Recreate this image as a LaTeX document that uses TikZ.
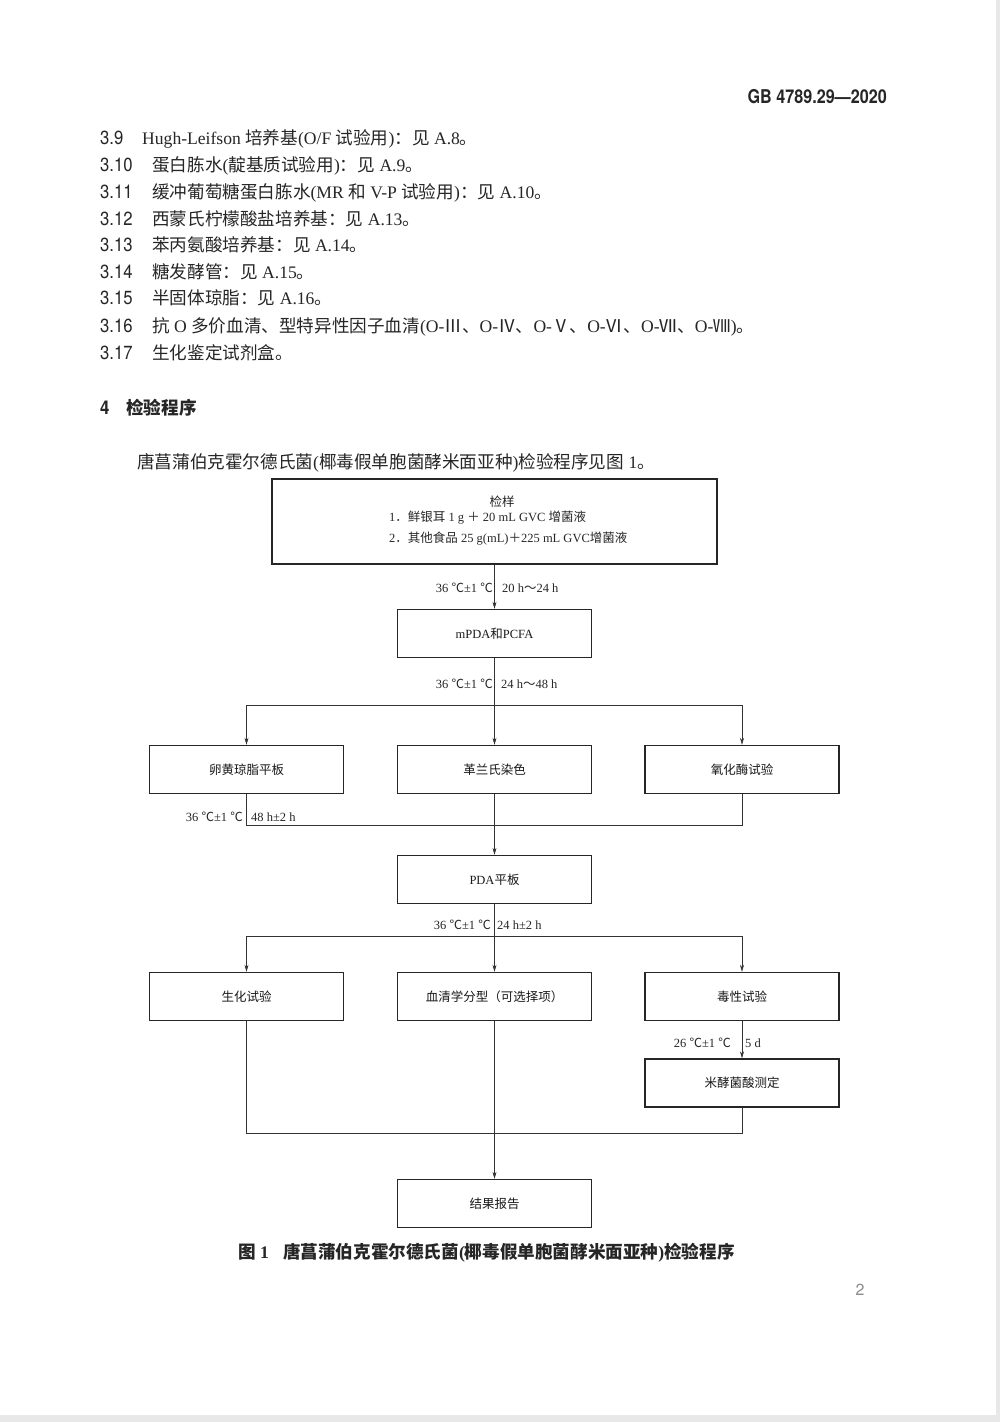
\documentclass[tikz,border=0pt]{standalone}
\usepackage{fontspec}
\usepackage{graphicx}
\setmainfont{Liberation Serif}
\newfontfamily\cjk{Noto Sans CJK SC}
\newfontfamily\latin{Liberation Serif}
\newfontfamily\heads{TeX Gyre Heros}
\usetikzlibrary{arrows.meta}
% switch fonts between latin and cjk characters
\chardef\cjkcls=77
\makeatletter
\def\cjkrange#1#2{\count@=#1\relax
  \loop\XeTeXcharclass\count@=\cjkcls
  \ifnum\count@<#2\relax\advance\count@ by 1\relax\repeat}
\makeatother
\cjkrange{"2100}{"218F}
\cjkrange{"3000}{"303F}
\cjkrange{"4E00}{"9FFF}
\cjkrange{"FF00}{"FFEF}
\XeTeXinterchartoks 0 \cjkcls = {\cjk}
\XeTeXinterchartoks 4095 \cjkcls = {\cjk}
\XeTeXinterchartoks \cjkcls 0 = {\latin}
\XeTeXinterchartoks \cjkcls 4095 = {\latin}
\XeTeXinterchartokenstate=1
\newcommand\fbody{\fontsize{17.6}{21}\selectfont}
\newcommand\fsmall{\fontsize{12.5}{15}\selectfont}
\newcommand\fnum{\heads\fontsize{19}{22}\selectfont}
\newcommand\numb[1]{\scalebox{0.88}[1]{#1}}

\begin{document}
\begin{tikzpicture}[x=1pt,y=-1pt,
  box/.style={draw=black!85,line width=1.4pt,minimum width=194pt,minimum height=48pt,inner sep=0pt,font=\fsmall,text=black!90},
  cond/.style={inner sep=0pt,font=\fsmall,text=black!85,text height=9.5pt,text depth=1.5pt},
  line/.style={line width=0.6pt,draw=black!80},
  body/.style={anchor=west,inner sep=0pt,font=\fbody,text=black!85,text height=15.5pt,text depth=2.1pt},
  num/.style={anchor=west,inner sep=0pt,font=\fnum,text=black!85,text height=13.7pt,text depth=0pt},
  >={Stealth[length=7pt,width=4pt]}]
	%%%%% START %%%%%
	
	\fill[white] (0,0) rectangle (1000,1422);
	\useasboundingbox (0,0) rectangle (1000,1422);
	\fill[black!9] (996,0) rectangle (1000,1422);
	\fill[black!9] (0,1415) rectangle (1000,1422);
	
	% header
	\node[anchor=east,inner sep=0pt,font=\heads\bfseries\fontsize{19}{22}\selectfont,text=black!85] (gb) at (887,97) {\scalebox{0.85}[1]{GB 4789.29—2020}};
	
	% reagents
	\node[num] (n39) at (100,138) {\numb{3.9}};
	\node[body] (t39) at (142,138) {Hugh-Leifson 培养基(O/F 试验用)：见 A.8。};
	\node[num] (n310) at (100,165) {\numb{3.10}};
	\node[body] (t310) at (152,165) {蛋白胨水(靛基质试验用)：见 A.9。};
	\node[num] (n311) at (100,192) {\numb{3.11}};
	\node[body] (t311) at (152,192) {缓冲葡萄糖蛋白胨水(MR 和 V-P 试验用)：见 A.10。};
	\node[num] (n312) at (100,219) {\numb{3.12}};
	\node[body] (t312) at (152,219) {西蒙氏柠檬酸盐培养基：见 A.13。};
	\node[num] (n313) at (100,245) {\numb{3.13}};
	\node[body] (t313) at (152,245) {苯丙氨酸培养基：见 A.14。};
	\node[num] (n314) at (100,272) {\numb{3.14}};
	\node[body] (t314) at (152,272) {糖发酵管：见 A.15。};
	\node[num] (n315) at (100,298) {\numb{3.15}};
	\node[body] (t315) at (152,298) {半固体琼脂：见 A.16。};
	\node[num] (n316) at (100,326) {\numb{3.16}};
	\node[body] (t316) at (152,326) {抗 O 多价血清、型特异性因子血清(O-Ⅲ、O-Ⅳ、O-Ⅴ、O-Ⅵ、O-Ⅶ、O-Ⅷ)。};
	\node[num] (n317) at (100,353) {\numb{3.17}};
	\node[body] (t317) at (152,353) {生化鉴定试剂盒。};
	
	% section 4
	\node[num,font=\fnum\bfseries] (n4) at (100,408) {\numb{4}};
	\node[body,font=\fbody\bfseries] (t4) at (126,408) {检验程序};
	\node[body] (intro) at (137,462) {唐菖蒲伯克霍尔德氏菌(椰毒假单胞菌酵米面亚种)检验程序见图 1。};
	
	% flow chart
	\node[box,minimum width=445pt,minimum height=85pt] (sample) at (494.5,521.5) {};
	\node[cond] (s0) at (502,502) {检样};
	\node[cond,anchor=west] (s1) at (389,517.5) {1．鲜银耳 1 g ＋ 20 mL GVC 增菌液};
	\node[cond,anchor=west] (s2) at (389,538) {2．其他食品 25 g(mL)＋225 mL GVC增菌液};
	
	\node[box] (mpda) at (494.5,633.5) {mPDA和PCFA};
	
	\node[box] (yolk) at (246.5,769.5) {卵黄琼脂平板};
	\node[box] (gram) at (494.5,769.5) {革兰氏染色};
	\node[box] (oxid) at (742,769.5) {氧化酶试验};
	
	\node[box] (pda) at (494.5,879.5) {PDA平板};
	
	\node[box] (bio) at (246.5,996.5) {生化试验};
	\node[box] (sero) at (494.5,996.5) {血清学分型（可选择项）};
	\node[box] (tox) at (742,996.5) {毒性试验};
	
	\node[box] (mjs) at (742,1083) {米酵菌酸测定};
	
	\node[box] (result) at (494.5,1203.5) {结果报告};
	
	\coordinate (split1) at (494.5,705);
	\coordinate (merge1) at (494.5,825);
	\coordinate (split2) at (494.5,936);
	\coordinate (merge2) at (494.5,1133);
	
	\draw[line,->] (sample) -- (mpda);
	\draw[line] (mpda) -- (split1);
	\draw[line,->] (split1) -| (yolk.north);
	\draw[line,->] (split1) -- (gram.north);
	\draw[line,->] (split1) -| (oxid.north);
	\draw[line] (yolk.south) |- (merge1) -| (oxid.south);
	\draw[line,->] (gram) -- (pda);
	\draw[line] (pda) -- (split2);
	\draw[line,->] (split2) -| (bio.north);
	\draw[line,->] (split2) -- (sero.north);
	\draw[line,->] (split2) -| (tox.north);
	\draw[line,->] (tox) -- (mjs);
	\draw[line] (bio.south) |- (merge2) -| (mjs.south);
	\draw[line,->] (sero) -- (result);
	
	% incubation conditions
	\node[cond,anchor=east] (c1l) at (493,588) {36 ℃±1 ℃};
	\node[cond,anchor=west] (c1r) at (502,588) {20 h～24 h};
	\node[cond,anchor=east] (c2l) at (493,684) {36 ℃±1 ℃};
	\node[cond,anchor=west] (c2r) at (501,684) {24 h～48 h};
	\node[cond,anchor=east] (c3l) at (243,817) {36 ℃±1 ℃};
	\node[cond,anchor=west] (c3r) at (251,817) {48 h±2 h};
	\node[cond,anchor=east] (c4l) at (491,925) {36 ℃±1 ℃};
	\node[cond,anchor=west] (c4r) at (497,925) {24 h±2 h};
	\node[cond,anchor=east] (c5l) at (731,1043) {26 ℃±1 ℃};
	\node[cond,anchor=west] (c5r) at (745,1043) {5 d};
	
	% caption and page number
	\node[body,font=\fbody\bfseries] (cap) at (238,1252) {图 1\hspace{14pt}唐菖蒲伯克霍尔德氏菌(椰毒假单胞菌酵米面亚种)检验程序};
	\node[inner sep=0pt,font=\heads\fontsize{16}{18}\selectfont,text=black!45] (page) at (860,1290) {2};
	
	%%%%% END %%%%%
\end{tikzpicture}
\end{document}
